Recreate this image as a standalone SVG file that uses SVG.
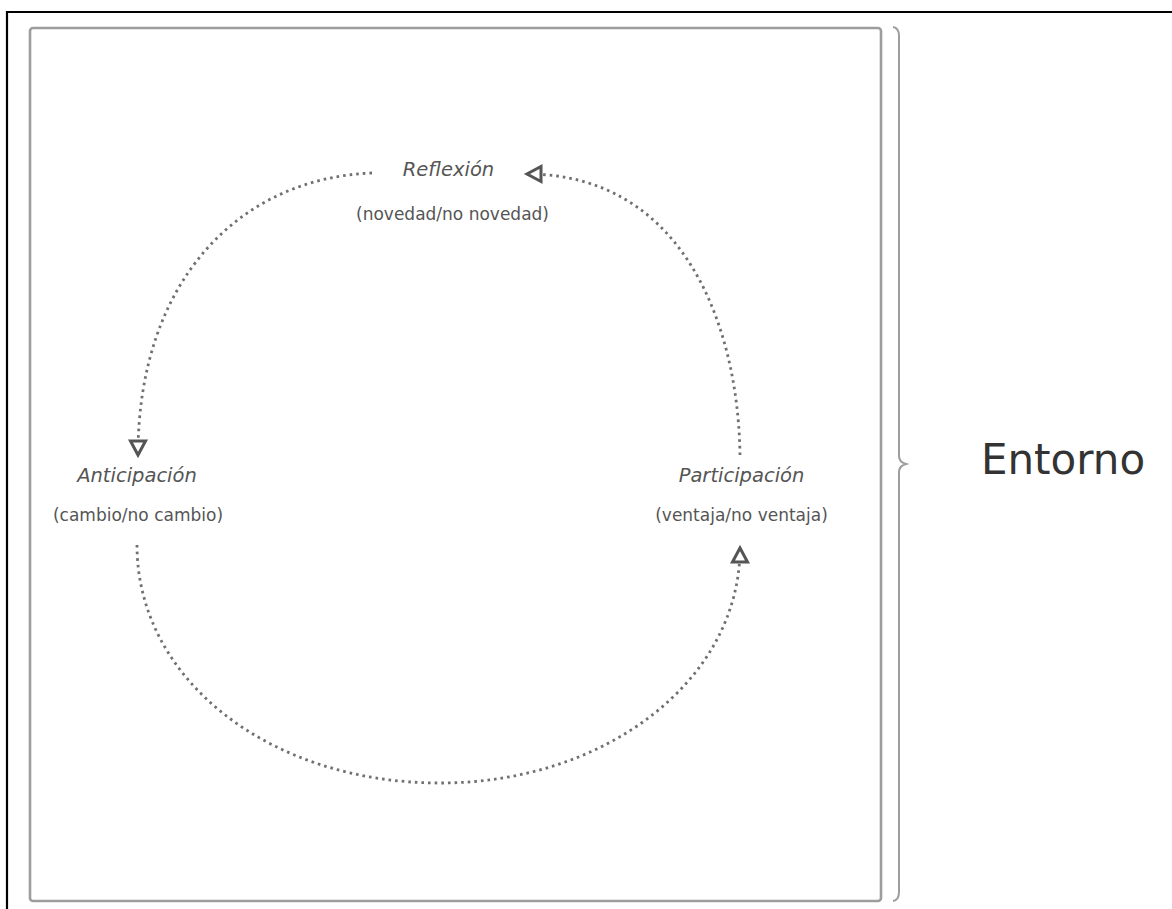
<svg xmlns="http://www.w3.org/2000/svg" width="1172" height="909" viewBox="0 0 1172 909">
  <style>
    .name { font-family: "DejaVu Sans", "Liberation Sans", sans-serif; font-style: italic; font-size: 19.5px; fill: #555; text-anchor: middle; }
    .sub { font-family: "DejaVu Sans", "Liberation Sans", sans-serif; font-size: 17px; fill: #555; text-anchor: middle; }
    .conn { fill: none; stroke: #707070; stroke-width: 2.8; stroke-dasharray: 2.6 4; marker-end: url(#openTri); }
  </style>
  <defs>
    <marker id="openTri" markerUnits="userSpaceOnUse" markerWidth="20" markerHeight="20" refX="14" refY="7.5" orient="auto" overflow="visible">
      <path d="M0,0 L14,7.5 L0,15 Z" fill="#fff" stroke="#555" stroke-width="3" stroke-linejoin="miter"/>
    </marker>
  </defs>
  <rect width="1172" height="909" fill="#fff"/>
  <g id="page-frame">
    <line x1="6" y1="12" x2="1172" y2="12" stroke="#000" stroke-width="2.2"/>
    <line x1="7" y1="11" x2="7" y2="909" stroke="#000" stroke-width="2.2"/>
  </g>
  <g id="system-box">
    <rect x="30" y="28" width="851" height="873" rx="3" fill="none" stroke="#9d9d9d" stroke-width="2.6"/>
  </g>
  <g id="brace">
    <path d="M893,27 Q899,28 899,36 L899,456 Q899,462 906,464 Q899,466 899,472 L899,892 Q899,900 893,901" fill="none" stroke="#9d9d9d" stroke-width="2"/>
  </g>
  <g id="entorno">
    <text x="1063" y="474" font-family="DejaVu Sans, Liberation Sans, sans-serif" font-size="42" fill="#333" text-anchor="middle">Entorno</text>
  </g>
  <g id="connectors">
    <path class="conn" d="M740,455 C738,320 680,174 527,174"/>
    <path class="conn" d="M372,173 C240,178 138,280 138,455"/>
    <path class="conn" d="M137,545 C137,680 270,783 440,783 C606,783 740,680 740,548"/>
  </g>
  <g id="node-reflexion">
    <text class="name" x="448.5" y="176">Reflexión</text>
    <text class="sub" x="452.5" y="220">(novedad/no novedad)</text>
  </g>
  <g id="node-anticipacion">
    <text class="name" x="137" y="482">Anticipación</text>
    <text class="sub" x="138" y="521">(cambio/no cambio)</text>
  </g>
  <g id="node-participacion">
    <text class="name" x="741.5" y="482">Participación</text>
    <text class="sub" x="741.5" y="521">(ventaja/no ventaja)</text>
  </g>
</svg>
